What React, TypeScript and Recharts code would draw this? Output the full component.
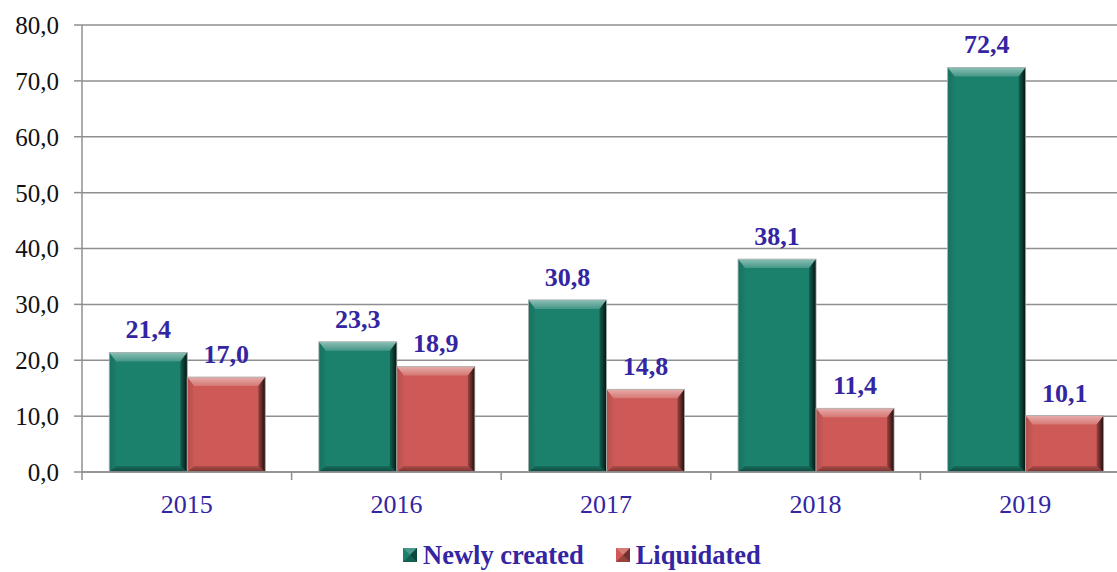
import React from 'react';
import { BarChart, Bar, XAxis, YAxis, CartesianGrid, Legend, LabelList } from 'recharts';

const years = ['2015', '2016', '2017', '2018', '2019'];
const newlyCreated = [21.4, 23.3, 30.8, 38.1, 72.4];
const liquidated = [17.0, 18.9, 14.8, 11.4, 10.1];
const yTicks = [0, 10, 20, 30, 40, 50, 60, 70, 80];

const data = years.map((year, i) => ({
  year,
  newly: newlyCreated[i],
  liquidated: liquidated[i],
}));

const FONT = '"Liberation Serif", "Times New Roman", serif';
const TEXT_BLUE = '#3425a2';
const AXIS_GREY = '#8f8f8f';
const GREEN = '#1b806c';
const RED = '#cd5a56';
const TICK_SIZE = 8;
const TICK_MARGIN = 2;

const fmt = (v: number) => v.toFixed(1).replace('.', ',');

// beveled bar like the office "3D" look
const BevelBar = (props: any) => {
  const { x, y, width: w, height: h, fill } = props;
  if (!w || !h || h <= 0) return null;
  const b = Math.min(9, w / 4, h / 3);
  const bs = Math.min(7, w / 4);
  const bb = Math.min(6, h / 3);
  return (
    <g>
      <rect x={x} y={y} width={w} height={h} fill={fill} />
      <polygon
        points={`${x},${y} ${x + w},${y} ${x + w - bs},${y + b} ${x + bs},${y + b}`}
        fill="url(#bvTop)"
      />
      <polygon
        points={`${x},${y} ${x + bs},${y + b} ${x + bs},${y + h - bb} ${x},${y + h}`}
        fill="url(#bvLeft)"
      />
      <polygon
        points={`${x + w},${y} ${x + w},${y + h} ${x + w - bs},${y + h - bb} ${x + w - bs},${y + b}`}
        fill="url(#bvRight)"
      />
      <polygon
        points={`${x},${y + h} ${x + w},${y + h} ${x + w - bs},${y + h - bb} ${x + bs},${y + h - bb}`}
        fill="url(#bvBottom)"
      />
      <rect x={x} y={y} width={w} height={h} fill="none" stroke="#a9b1ae" strokeWidth={0.8} />
    </g>
  );
};

const YearTick = (props: any) => {
  const { x, y, payload, index, width } = props;
  const half = typeof payload?.offset === 'number' && payload.offset > 0 ? payload.offset : width / years.length / 2;
  const top = y - TICK_SIZE - TICK_MARGIN;
  return (
    <g>
      {index === 0 && (
        <line x1={x - half} x2={x - half} y1={top} y2={top + TICK_SIZE} stroke={AXIS_GREY} strokeWidth={1.5} />
      )}
      <line x1={x + half} x2={x + half} y1={top} y2={top + TICK_SIZE} stroke={AXIS_GREY} strokeWidth={1.5} />
      <text x={x} y={y} dy={31} textAnchor="middle" fill={TEXT_BLUE} fontSize={26} fontFamily={FONT}>
        {payload.value}
      </text>
    </g>
  );
};

const LegendSwatch = ({ color }: { color: string }) => (
  <svg width={14} height={14} style={{ display: 'block' }}>
    <rect x={0} y={0} width={14} height={14} fill={color} />
    <polygon points="0,0 14,0 7,7" fill="#ffffff" fillOpacity={0.2} />
    <polygon points="14,0 14,14 7,7" fill="#000000" fillOpacity={0.45} />
    <polygon points="0,14 14,14 7,7" fill="#000000" fillOpacity={0.25} />
  </svg>
);

const legendItems = [
  { name: 'Newly created', color: GREEN },
  { name: 'Liquidated', color: RED },
];

const LegendContent = () => (
  <div style={{ display: 'flex', alignItems: 'center', height: 30, paddingLeft: 403 }}>
    {legendItems.map((item, i) => (
      <div key={item.name} style={{ display: 'flex', alignItems: 'center', marginRight: i === 0 ? 32 : 0 }}>
        <LegendSwatch color={item.color} />
        <span
          style={{
            marginLeft: 6,
            fontFamily: FONT,
            fontSize: 26.5,
            fontWeight: 'bold',
            color: TEXT_BLUE,
            lineHeight: '30px',
          }}
        >
          {item.name}
        </span>
      </div>
    ))}
  </div>
);

export default function App() {
  return (
    <div style={{ position: 'absolute', left: 0, top: 0, width: 1117, height: 572, overflow: 'hidden', background: '#fff' }}>
      <BarChart
        width={1130}
        height={580}
        data={data}
        margin={{ top: 25, right: 0, left: 0, bottom: 10 }}
        barCategoryGap="13%"
        barGap={0}
      >
        <defs>
          <linearGradient id="bvTop" x1="0" y1="0" x2="0" y2="1">
            <stop offset="0%" stopColor="#ffffff" stopOpacity={0.5} />
            <stop offset="100%" stopColor="#ffffff" stopOpacity={0.18} />
          </linearGradient>
          <linearGradient id="bvLeft" x1="0" y1="0" x2="1" y2="0">
            <stop offset="0%" stopColor="#000000" stopOpacity={0.12} />
            <stop offset="100%" stopColor="#000000" stopOpacity={0.02} />
          </linearGradient>
          <linearGradient id="bvRight" x1="0" y1="0" x2="1" y2="0">
            <stop offset="0%" stopColor="#000000" stopOpacity={0.25} />
            <stop offset="100%" stopColor="#000000" stopOpacity={0.85} />
          </linearGradient>
          <linearGradient id="bvBottom" x1="0" y1="0" x2="0" y2="1">
            <stop offset="0%" stopColor="#000000" stopOpacity={0.15} />
            <stop offset="100%" stopColor="#000000" stopOpacity={0.45} />
          </linearGradient>
        </defs>
        <CartesianGrid vertical={false} stroke={AXIS_GREY} strokeWidth={1.5} />
        <XAxis
          dataKey="year"
          height={68}
          tickLine={false}
          tickSize={TICK_SIZE}
          tickMargin={TICK_MARGIN}
          axisLine={{ stroke: AXIS_GREY, strokeWidth: 1.5 }}
          tick={<YearTick />}
          interval={0}
        />
        <YAxis
          width={82}
          domain={[0, 80]}
          ticks={yTicks}
          tickFormatter={fmt}
          tickSize={TICK_SIZE}
          tickMargin={15}
          tickLine={{ stroke: AXIS_GREY, strokeWidth: 1.5 }}
          axisLine={{ stroke: AXIS_GREY, strokeWidth: 1.5 }}
          tick={{ fill: '#111', fontSize: 25, fontFamily: FONT }}
          interval={0}
        />
        <Legend verticalAlign="bottom" content={<LegendContent />} />
        <Bar dataKey="newly" name="Newly created" fill={GREEN} shape={<BevelBar />} isAnimationActive={false}>
          <LabelList
            dataKey="newly"
            position="top"
            offset={14}
            formatter={(v: any) => fmt(Number(v))}
            fill={TEXT_BLUE}
            fontSize={26}
            fontWeight="bold"
            fontFamily={FONT}
          />
        </Bar>
        <Bar dataKey="liquidated" name="Liquidated" fill={RED} shape={<BevelBar />} isAnimationActive={false}>
          <LabelList
            dataKey="liquidated"
            position="top"
            offset={14}
            formatter={(v: any) => fmt(Number(v))}
            fill={TEXT_BLUE}
            fontSize={26}
            fontWeight="bold"
            fontFamily={FONT}
          />
        </Bar>
      </BarChart>
    </div>
  );
}
